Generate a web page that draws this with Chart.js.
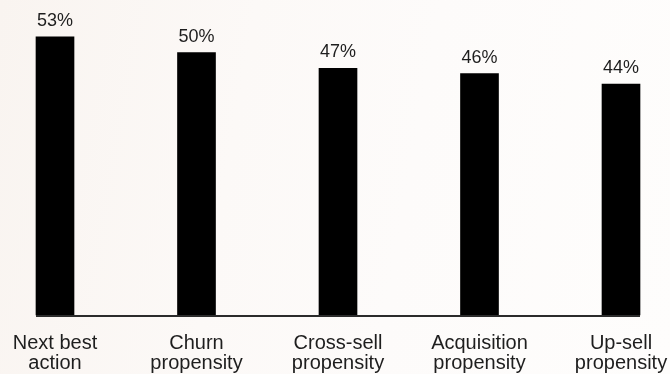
<!DOCTYPE html>
<html>
<head>
<meta charset="utf-8">
<script src="https://cdn.jsdelivr.net/npm/chart.js@4/dist/chart.umd.min.js"></script>
<style>
  html, body { margin: 0; padding: 0; }
  body { width: 670px; height: 374px; overflow: hidden;
    background: linear-gradient(100deg, #f9f4f0 0%, #fcf9f7 35%, #fdfbfa 60%, #fefdfc 100%); }
  #wrap { position: relative; width: 670px; height: 374px; }
</style>
</head>
<body>
<div id="wrap"><canvas id="c" width="670" height="374"></canvas></div>
<script>
const categories = [
  ["Next best", "action"],
  ["Churn", "propensity"],
  ["Cross-sell", "propensity"],
  ["Acquisition", "propensity"],
  ["Up-sell", "propensity"]
];
const values = [53, 50, 47, 46, 44];
const valueLabels = ["53%", "50%", "47%", "46%", "44%"];

const FONT = "'Liberation Sans', Arial, sans-serif";

const decorPlugin = {
  id: 'decor',
  afterDatasetsDraw(chart) {
    const ctx = chart.ctx;
    const meta = chart.getDatasetMeta(0);
    const bars = meta.data;
    const first = bars[0], last = bars[bars.length - 1];
    const y0 = chart.scales.y.getPixelForValue(0);
    ctx.save();
    ctx.strokeStyle = '#2b2b2b';
    ctx.lineWidth = 2;
    ctx.beginPath();
    ctx.moveTo(first.x - first.width / 2, y0 + 1);
    ctx.lineTo(last.x + last.width / 2, y0 + 1);
    ctx.stroke();
    ctx.fillStyle = '#1e1e1e';
    ctx.font = '18px ' + FONT;
    ctx.textAlign = 'center';
    ctx.textBaseline = 'alphabetic';
    bars.forEach((b, i) => {
      ctx.fillText(valueLabels[i], b.x, b.y - 11);
    });
    ctx.restore();
  }
};

new Chart(document.getElementById('c'), {
  type: 'bar',
  data: {
    labels: categories,
    datasets: [{
      data: values,
      backgroundColor: '#000000',
      borderWidth: 0,
      barThickness: 38,
      clip: false
    }]
  },
  options: {
    responsive: false,
    animation: false,
    events: [],
    layout: { padding: { left: 55, right: 49, top: 0, bottom: 0 } },
    plugins: { legend: { display: false }, tooltip: { enabled: false } },
    scales: {
      x: {
        offset: false,
        grid: { display: false, drawTicks: false },
        border: { display: false },
        afterFit(scale) {
          scale.height = 59;
          scale.paddingLeft = 0;
          scale.paddingRight = 0;
        },
        ticks: {
          color: '#1e1e1e',
          padding: 18,
          maxRotation: 0,
          autoSkip: false,
          font: { family: FONT, size: 20, lineHeight: 1.0 }
        }
      },
      y: {
        display: false,
        min: 0,
        max: 60
      }
    }
  },
  plugins: [decorPlugin]
});
</script>
</body>
</html>
